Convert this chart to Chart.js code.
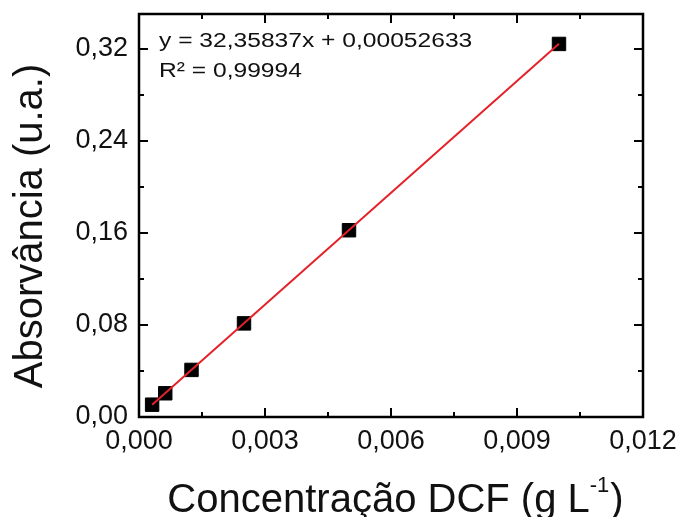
<!DOCTYPE html>
<html>
<head>
<meta charset="utf-8">
<script src="https://cdn.jsdelivr.net/npm/chart.js@4/dist/chart.umd.min.js"></script>
<style>
  html, body { margin: 0; padding: 0; background: #fff; }
  #wrap { width: 681px; height: 517px; position: relative; }
</style>
</head>
<body>
<div id="wrap"><canvas id="calib"></canvas></div>
<script>
// calibration data (DCF)
const concX = [0.0003125, 0.000625, 0.00125, 0.0025, 0.005, 0.01];
const absY = [0.0107, 0.0206, 0.0409, 0.0813, 0.1622, 0.3240];

// linear fit endpoints
const fitX = [0.0003125, 0.01];
const fitY = [0.0106, 0.3241];

const xTicks = [0, 0.003, 0.006, 0.009, 0.012];
const yTicks = [0, 0.08, 0.16, 0.24, 0.32];
const xMinor = [0.0015, 0.0045, 0.0075, 0.0105];
const yMinor = [0.04, 0.12, 0.20, 0.28];

const eqLine1 = "y = 32,35837x + 0,00052633";
const eqLine2 = "R\u00B2 = 0,99994";
const yTitle = "Absorv\u00E2ncia (u.a.)";
const xTitleMain = "Concentra\u00E7\u00E3o DCF (g L";
const xTitleSup = "-1";
const xTitleEnd = ")";

const FONT = "'Liberation Sans', Arial, sans-serif";

// frame, inward ticks, equation and axis titles
const framePlugin = {
  id: "frame",
  afterDraw(chart) {
    const ctx = chart.ctx;
    const a = chart.chartArea;
    const xs = chart.scales.x, ys = chart.scales.y;
    ctx.save();
    ctx.strokeStyle = "#000";
    ctx.lineWidth = 2;
    ctx.beginPath();
    xTicks.forEach(v => {
      const p = Math.round(xs.getPixelForValue(v));
      if (p <= a.left + 1 || p >= a.right - 1) return;
      ctx.moveTo(p, a.bottom); ctx.lineTo(p, a.bottom - 9);
      ctx.moveTo(p, a.top); ctx.lineTo(p, a.top + 9);
    });
    xMinor.forEach(v => {
      const p = Math.round(xs.getPixelForValue(v));
      ctx.moveTo(p, a.bottom); ctx.lineTo(p, a.bottom - 5);
      ctx.moveTo(p, a.top); ctx.lineTo(p, a.top + 5);
    });
    yTicks.forEach(v => {
      const p = Math.round(ys.getPixelForValue(v));
      if (p >= a.bottom - 1) return;
      ctx.moveTo(a.left, p); ctx.lineTo(a.left + 9, p);
      ctx.moveTo(a.right, p); ctx.lineTo(a.right - 9, p);
    });
    yMinor.forEach(v => {
      const p = Math.round(ys.getPixelForValue(v));
      ctx.moveTo(a.left, p); ctx.lineTo(a.left + 5, p);
      ctx.moveTo(a.right, p); ctx.lineTo(a.right - 5, p);
    });
    ctx.stroke();

    ctx.lineWidth = 2.5;
    ctx.strokeRect(a.left, a.top, a.right - a.left, a.bottom - a.top);

    // equation
    ctx.fillStyle = "#111";
    ctx.textAlign = "left";
    ctx.textBaseline = "alphabetic";
    ctx.font = "20px " + FONT;
    ctx.save();
    ctx.translate(a.left + 20, a.top + 33);
    ctx.scale(1.23, 1);
    ctx.fillText(eqLine1, 0, 0);
    ctx.fillText(eqLine2, 0, 30);
    ctx.restore();

    // y title
    ctx.save();
    ctx.font = "40px " + FONT;
    ctx.textAlign = "center";
    ctx.translate(42, 226);
    ctx.rotate(-Math.PI / 2);
    ctx.fillText(yTitle, 0, 0);
    ctx.restore();

    // x title with superscript
    ctx.font = "40px " + FONT;
    const w1 = ctx.measureText(xTitleMain).width;
    const w3 = ctx.measureText(xTitleEnd).width;
    ctx.font = "22px " + FONT;
    const w2 = ctx.measureText(xTitleSup).width;
    let x0 = 395 - (w1 + w2 + w3) / 2;
    ctx.font = "40px " + FONT;
    ctx.fillText(xTitleMain, x0, 512);
    ctx.font = "22px " + FONT;
    ctx.fillText(xTitleSup, x0 + w1, 492);
    ctx.font = "40px " + FONT;
    ctx.fillText(xTitleEnd, x0 + w1 + w2 + 1, 512);
    ctx.restore();
  }
};

const fmt = (d) => (v) => Number(v).toFixed(d).replace(".", ",");

new Chart(document.getElementById("calib"), {
  type: "scatter",
  data: {
    datasets: [
      {
        type: "line",
        label: "fit",
        data: fitX.map((x, i) => ({ x: x, y: fitY[i] })),
        borderColor: "#e3222a",
        borderWidth: 2,
        pointRadius: 0,
        fill: false,
        order: 0
      },
      {
        label: "DCF",
        data: concX.map((x, i) => ({ x: x, y: absY[i] })),
        pointStyle: "rect",
        pointRadius: 9.5,
        backgroundColor: "#000",
        borderColor: "#000",
        borderWidth: 1,
        order: 1
      }
    ]
  },
  options: {
    responsive: true,
    maintainAspectRatio: false,
    animation: false,
    layout: { padding: { left: 0, top: 14, right: 38, bottom: 0 } },
    plugins: {
      legend: { display: false },
      tooltip: { enabled: false }
    },
    scales: {
      x: {
        type: "linear",
        min: 0,
        max: 0.012,
        grid: { display: false, drawTicks: false },
        border: { display: false },
        afterBuildTicks: s => { s.ticks = xTicks.map(v => ({ value: v })); },
        afterFit: s => { s.height = 100; s.paddingLeft = 0; s.paddingRight = 0; },
        ticks: {
          padding: 8,
          color: "#111",
          font: { family: FONT, size: 27 },
          maxRotation: 0,
          callback: fmt(3)
        }
      },
      y: {
        type: "linear",
        min: 0,
        max: 0.35,
        grid: { display: false, drawTicks: false },
        border: { display: false },
        afterBuildTicks: s => { s.ticks = yTicks.map(v => ({ value: v })); },
        afterFit: s => { s.width = 139; s.paddingTop = 0; s.paddingBottom = 0; },
        ticks: {
          padding: 11,
          color: "#111",
          font: { family: FONT, size: 27 },
          callback: fmt(2)
        }
      }
    }
  },
  plugins: [framePlugin]
});
</script>
</body>
</html>
